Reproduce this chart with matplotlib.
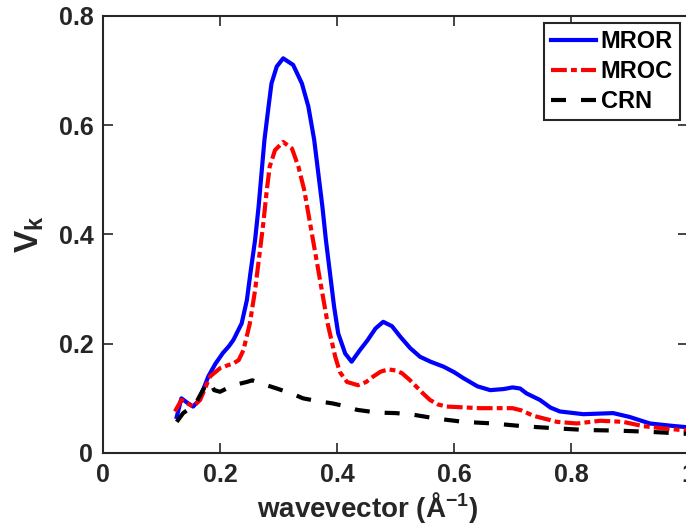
import numpy as np
import matplotlib
matplotlib.use("Agg")
import matplotlib.pyplot as plt

plt.rcParams['font.family'] = ['Liberation Sans', 'DejaVu Sans']
plt.rcParams['font.weight'] = 'bold'
plt.rcParams['mathtext.fontset'] = 'custom'
plt.rcParams['mathtext.rm'] = 'Liberation Sans:bold'
plt.rcParams['mathtext.bf'] = 'Liberation Sans:bold'
plt.rcParams['mathtext.it'] = 'Liberation Sans:bold'

# MROR
mror_x = [0.126, 0.134, 0.144, 0.154, 0.162, 0.172, 0.180, 0.192, 0.205, 0.215,
          0.223, 0.237, 0.246, 0.252, 0.260, 0.266, 0.271, 0.276, 0.283, 0.288,
          0.297, 0.308, 0.325, 0.340, 0.351, 0.361, 0.368, 0.375, 0.381, 0.388,
          0.395, 0.402, 0.414, 0.425, 0.439, 0.452, 0.466, 0.479, 0.494, 0.508,
          0.525, 0.542, 0.560, 0.582, 0.600, 0.616, 0.640, 0.662, 0.685, 0.700,
          0.713, 0.724, 0.747, 0.765, 0.781, 0.821, 0.872, 0.900, 0.935, 0.970, 1.0]
mror_y = [0.066, 0.100, 0.092, 0.085, 0.094, 0.118, 0.140, 0.163, 0.183, 0.195,
          0.207, 0.237, 0.280, 0.329, 0.390, 0.451, 0.512, 0.573, 0.634, 0.676,
          0.707, 0.722, 0.710, 0.676, 0.634, 0.573, 0.512, 0.451, 0.390, 0.329,
          0.268, 0.219, 0.182, 0.167, 0.188, 0.206, 0.228, 0.240, 0.232, 0.213,
          0.192, 0.176, 0.167, 0.158, 0.148, 0.137, 0.122, 0.115, 0.117, 0.120,
          0.118, 0.109, 0.097, 0.083, 0.076, 0.071, 0.073, 0.066, 0.054, 0.050, 0.047]

# MROC
mroc_x = [0.123, 0.134, 0.154, 0.166, 0.183, 0.200, 0.212, 0.223, 0.232, 0.240,
          0.251, 0.260, 0.267, 0.274, 0.280, 0.285, 0.294, 0.308, 0.323, 0.334,
          0.344, 0.354, 0.364, 0.374, 0.384, 0.397, 0.405, 0.417, 0.436, 0.450,
          0.462, 0.475, 0.488, 0.500, 0.511, 0.524, 0.536, 0.548, 0.559, 0.572,
          0.587, 0.644, 0.700, 0.715, 0.736, 0.776, 0.810, 0.850, 0.889, 0.924,
          0.958, 1.0]
mroc_y = [0.076, 0.097, 0.085, 0.097, 0.140, 0.155, 0.160, 0.164, 0.170, 0.188,
          0.237, 0.298, 0.359, 0.420, 0.481, 0.524, 0.554, 0.569, 0.557, 0.524,
          0.481, 0.420, 0.359, 0.298, 0.237, 0.176, 0.148, 0.130, 0.124, 0.130,
          0.140, 0.149, 0.153, 0.151, 0.146, 0.134, 0.121, 0.108, 0.097, 0.089,
          0.085, 0.082, 0.082, 0.078, 0.068, 0.057, 0.054, 0.059, 0.057, 0.049,
          0.045, 0.041]

# CRN
crn_x = [0.126, 0.137, 0.157, 0.177, 0.183, 0.190, 0.200, 0.223, 0.246, 0.255,
         0.274, 0.297, 0.322, 0.342, 0.371, 0.391, 0.417, 0.434, 0.468, 0.500,
         0.525, 0.570, 0.616, 0.667, 0.718, 0.776, 0.827, 0.878, 0.929, 1.0]
crn_y = [0.057, 0.073, 0.088, 0.127, 0.130, 0.115, 0.112, 0.124, 0.130, 0.133,
         0.126, 0.118, 0.109, 0.100, 0.094, 0.091, 0.085, 0.079, 0.074, 0.073,
         0.071, 0.063, 0.057, 0.054, 0.049, 0.045, 0.042, 0.041, 0.039, 0.035]

fig = plt.figure(figsize=(6.86, 5.29), dpi=100)
ax = fig.add_axes([103 / 686, 76 / 529, 585 / 686, 437.3 / 529])

lw = 3
ax.plot(mror_x, mror_y, color='#0000FF', lw=lw, solid_joinstyle='round', label='MROR')
ax.plot(mroc_x, mroc_y, color='#FF0000', lw=lw, dashes=(3.8, 1.0, 1.4, 1.0),
        dash_joinstyle='round', label='MROC')
ax.plot(crn_x, crn_y, color='black', lw=lw, dashes=(3.6, 3.6),
        dash_joinstyle='round', label='CRN')

ax.set_xlim(0, 1)
ax.set_ylim(0, 0.8)
ax.set_xticks([0, 0.2, 0.4, 0.6, 0.8, 1.0])
ax.set_xticklabels(['0', '0.2', '0.4', '0.6', '0.8', '1'])
ax.set_yticks([0, 0.2, 0.4, 0.6, 0.8])
ax.set_yticklabels(['0', '0.2', '0.4', '0.6', '0.8'])

axc = '#262626'
for s in ax.spines.values():
    s.set_color(axc)
    s.set_linewidth(1.5)
ax.tick_params(direction='in', length=7, width=1.2, colors=axc, labelcolor=axc,
               labelsize=18, pad=7, top=True, right=True)

ax.set_xlabel(r'wavevector (Å$^{\mathbf{-1}}$)', fontsize=20, fontweight='bold', color=axc)
ax.xaxis.set_label_coords(0.453, -0.084)
ax.set_ylabel(r'$\mathbf{V_k}$', fontsize=24, color=axc)
ax.yaxis.set_label_coords(-0.098, 0.5)

leg = ax.legend(loc='upper right', bbox_to_anchor=(680 / 686, 1 - 23 / 529),
                bbox_transform=fig.transFigure, fontsize=17, handlelength=1.9,
                handletextpad=0.2, labelspacing=0.3, borderpad=0.3,
                borderaxespad=0, fancybox=False, framealpha=1)
leg.get_frame().set_edgecolor(axc)
leg.get_frame().set_linewidth(1.5)
for t in leg.get_texts():
    t.set_color('black')

fig.savefig('out.png', dpi=100)
